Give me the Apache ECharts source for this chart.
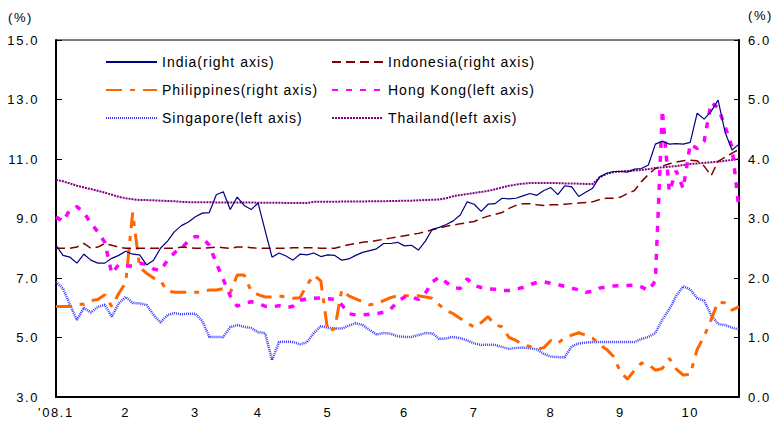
<!DOCTYPE html>
<html>
<head>
<meta charset="utf-8">
<script src="https://cdn.jsdelivr.net/npm/echarts@6/dist/echarts.min.js"></script>
<style>
html,body{margin:0;padding:0;background:#fff;}
#chart{width:779px;height:427px;}
text[style*="14px"]{letter-spacing:1px;}
text[style*="13px"]{letter-spacing:1.6px;}
</style>
</head>
<body>
<div id="chart"></div>
<script>
// ---- data ----
const monthLabels = ["'08.1", "2", "3", "4", "5", "6", "7", "8", "9", "10"];
const samplesPerMonth = [10, 10, 9, 10, 11, 10, 11, 10, 10, 8];

const india = [
  2.55,2.38,2.35,2.25,2.40,2.30,2.25,2.25,2.33,2.38,
  2.45,2.40,2.39,2.22,2.30,2.50,2.62,2.78,2.88,2.94,
  3.03,3.09,3.10,3.40,3.45,3.15,3.36,3.22,3.15,3.26,
  2.80,2.35,2.42,2.37,2.30,2.40,2.39,2.42,2.36,2.39,
  2.38,2.30,2.32,2.38,2.43,2.46,2.49,2.58,2.58,2.60,
  2.54,2.55,2.47,2.62,2.82,2.85,2.90,2.96,3.06,3.28,
  3.24,3.12,3.24,3.25,3.34,3.33,3.34,3.38,3.42,3.39,
  3.47,3.52,3.40,3.55,3.53,3.37,3.44,3.51,3.70,3.76,
  3.79,3.79,3.78,3.83,3.84,3.90,4.25,4.30,4.25,4.26,
  4.25,4.28,4.77,4.67,4.80,4.99,4.45,4.15,4.25
];
const indonesia = [
  2.50,2.50,2.50,2.52,2.58,2.50,2.52,2.58,2.55,2.52,
  2.50,2.50,2.50,2.50,2.50,2.50,2.50,2.50,2.52,2.51,
  2.50,2.50,2.51,2.52,2.51,2.50,2.52,2.52,2.51,2.50,
  2.50,2.50,2.50,2.50,2.51,2.51,2.51,2.51,2.50,2.50,
  2.50,2.53,2.56,2.58,2.60,2.61,2.63,2.65,2.67,2.69,
  2.71,2.73,2.75,2.78,2.81,2.84,2.87,2.89,2.91,2.93,
  2.95,3.00,3.04,3.07,3.10,3.17,3.22,3.25,3.25,3.23,
  3.22,3.23,3.23,3.24,3.25,3.26,3.27,3.28,3.32,3.34,
  3.34,3.36,3.42,3.47,3.62,3.74,3.84,3.88,3.92,3.95,
  3.97,3.98,3.97,3.88,3.72,3.96,4.03,4.10,4.16
];
const philippines = [
  1.52,1.52,1.52,1.56,1.56,1.62,1.64,1.72,1.52,1.74,
  1.92,3.10,2.18,2.08,2.00,1.95,1.78,1.76,1.76,1.76,
  1.76,1.76,1.80,1.80,1.82,1.75,2.05,2.05,1.78,1.72,
  1.68,1.68,1.70,1.68,1.66,1.67,1.88,2.05,1.95,1.10,
  1.15,1.80,1.70,1.65,1.60,1.55,1.57,1.62,1.67,1.70,
  1.70,1.70,1.70,1.68,1.66,1.55,1.45,1.40,1.32,1.25,
  1.17,1.25,1.35,1.21,1.18,1.00,0.95,0.88,0.85,0.80,
  0.83,0.95,0.90,1.00,1.04,1.08,1.04,0.99,0.88,0.80,
  0.68,0.42,0.30,0.45,0.57,0.55,0.45,0.48,0.65,0.47,
  0.37,0.38,0.80,1.02,1.30,1.60,1.58,1.46,1.52
];
const hongKong = [
  9.05,8.90,9.30,9.40,9.20,8.85,8.55,8.20,7.15,7.45,
  7.40,7.40,7.50,7.45,7.30,7.25,7.60,7.85,8.00,8.25,
  8.40,8.35,8.10,7.50,6.95,6.40,6.05,6.15,6.20,6.15,
  6.05,6.03,6.07,6.00,6.05,6.25,6.30,6.32,6.33,6.30,
  6.28,6.10,5.80,5.76,5.76,5.78,5.80,5.85,5.95,6.20,
  6.36,6.36,6.28,6.49,6.87,7.03,6.85,6.68,6.65,6.97,
  6.75,6.68,6.63,6.62,6.58,6.58,6.63,6.68,6.78,6.85,
  6.87,6.82,6.78,6.72,6.66,6.60,6.52,6.55,6.66,6.70,
  6.73,6.74,6.75,6.76,6.70,6.58,6.90,12.65,9.90,10.60,
  10.00,11.50,11.35,11.60,12.90,12.72,12.10,11.40,9.30
];
const singapore = [
  6.87,6.65,6.10,5.59,6.00,5.84,6.03,6.10,5.70,6.15,
  6.36,6.16,6.15,6.09,5.76,5.50,5.76,5.82,5.78,5.80,
  5.80,5.55,5.02,5.02,5.02,5.35,5.42,5.36,5.32,5.18,
  5.15,4.24,4.85,4.86,4.85,4.77,4.84,5.15,5.38,5.33,
  5.30,5.30,5.40,5.48,5.42,5.25,5.10,5.15,5.13,5.04,
  5.02,5.02,5.08,5.15,5.14,4.95,4.97,5.02,4.98,4.90,
  4.80,4.75,4.76,4.75,4.68,4.62,4.65,4.66,4.64,4.60,
  4.45,4.36,4.34,4.34,4.70,4.80,4.83,4.85,4.85,4.85,
  4.85,4.85,4.85,4.85,4.95,5.02,5.15,5.60,5.95,6.40,
  6.72,6.62,6.32,6.24,5.75,5.45,5.42,5.33,5.27
];
const thailand = [
  10.30,10.25,10.18,10.10,10.04,9.99,9.93,9.87,9.80,9.73,
  9.68,9.65,9.62,9.62,9.61,9.60,9.59,9.58,9.56,9.55,
  9.55,9.55,9.55,9.54,9.54,9.54,9.54,9.54,9.54,9.53,
  9.53,9.53,9.53,9.52,9.52,9.52,9.52,9.56,9.56,9.56,
  9.56,9.57,9.57,9.57,9.57,9.58,9.58,9.58,9.59,9.59,
  9.60,9.60,9.61,9.62,9.63,9.64,9.68,9.75,9.79,9.82,
  9.86,9.89,9.93,9.98,10.04,10.10,10.14,10.17,10.19,10.19,
  10.19,10.19,10.19,10.18,10.18,10.17,10.16,10.16,10.38,10.50,
  10.56,10.58,10.60,10.61,10.63,10.66,10.70,10.72,10.74,10.76,
  10.80,10.83,10.85,10.87,10.89,10.91,10.94,10.97,11.00
];

const leftTicks = { min: 3, max: 15, interval: 2 };
const rightTicks = { min: 0, max: 6, interval: 1 };

// ---- build categories ----
const categories = [];
const tickIndex = {};
samplesPerMonth.forEach((n, m) => {
  tickIndex[categories.length] = monthLabels[m];
  for (let k = 0; k < n; k++) categories.push((m + 1) + '/' + (k + 1));
});

const FONT = "'Liberation Sans', Arial, sans-serif";

const chart = echarts.init(document.getElementById('chart'), null, { renderer: 'svg' });

function mk(name, data, yIdx, color, width, type, z) {
  return {
    name, type: 'line', data, yAxisIndex: yIdx, symbol: 'none', z,
    lineStyle: { color, width, type, cap: 'butt' },
    itemStyle: { color },
    emphasis: { disabled: true },
    animation: false
  };
}

const legendCommon = {
  orient: 'vertical', itemWidth: 51, itemHeight: 14, itemGap: 14,
  textStyle: { fontFamily: FONT, fontSize: 14, color: '#000' },
  itemStyle: { opacity: 0 },
  selectedMode: false
};

chart.setOption({
  animation: false,
  backgroundColor: '#fff',
  grid: { left: 56, right: 40, top: 40, bottom: 30, show: true, borderColor: '#000', borderWidth: 1 },
  legend: [
    Object.assign({ left: 100, top: 50, data: ['India(right axis)', 'Philippines(right axis)', 'Singapore(left axis)'] }, legendCommon),
    Object.assign({ left: 326, top: 50, data: ['Indonesia(right axis)', 'Hong Kong(left axis)', 'Thailand(left axis)'] }, legendCommon)
  ],
  graphic: [
    { type: 'text', left: 8, top: 11, style: { text: '(%)', font: '13px ' + FONT, fill: '#000' } },
    { type: 'text', left: 748, top: 9, style: { text: '(%)', font: '13px ' + FONT, fill: '#000' } }
  ],
  xAxis: {
    type: 'category', data: categories, boundaryGap: false,
    axisLine: { lineStyle: { color: '#000', width: 2 } },
    axisTick: { show: false },
    axisLabel: {
      interval: (i) => tickIndex[i] !== undefined,
      formatter: (v, i) => tickIndex[i] !== undefined ? tickIndex[i] : '',
      fontFamily: FONT, fontSize: 13, color: '#000', margin: 9
    },
    splitLine: { show: false }
  },
  yAxis: [
    {
      type: 'value', position: 'left', min: leftTicks.min, max: leftTicks.max, interval: leftTicks.interval,
      axisLine: { show: true, lineStyle: { color: '#000', width: 2 } },
      axisTick: { show: true, inside: true, length: 6, lineStyle: { color: '#000' } },
      axisLabel: { formatter: v => v.toFixed(1), fontFamily: FONT, fontSize: 13, color: '#000', margin: 17 },
      splitLine: { show: false }
    },
    {
      type: 'value', position: 'right', min: rightTicks.min, max: rightTicks.max, interval: rightTicks.interval,
      axisLine: { show: true, lineStyle: { color: '#000', width: 2 } },
      axisTick: { show: true, inside: true, length: 5, lineStyle: { color: '#000' } },
      axisLabel: { formatter: v => v.toFixed(1), fontFamily: FONT, fontSize: 13, color: '#000', margin: 9 },
      splitLine: { show: false }
    }
  ],
  series: [
    mk('India(right axis)', india, 1, '#000080', 1.2, 'solid', 6),
    mk('Indonesia(right axis)', indonesia, 1, '#800000', 1.5, [9, 5], 5),
    mk('Philippines(right axis)', philippines, 1, '#FF6600', 3, [16, 8, 5, 8], 3),
    mk('Hong Kong(left axis)', hongKong, 0, '#FF00FF', 3.5, [6, 8], 4),
    mk('Singapore(left axis)', singapore, 0, '#3a3aff', 2.5, [1, 1], 2),
    mk('Thailand(left axis)', thailand, 0, '#800080', 2, [2, 1], 2)
  ]
});
</script>
</body>
</html>
